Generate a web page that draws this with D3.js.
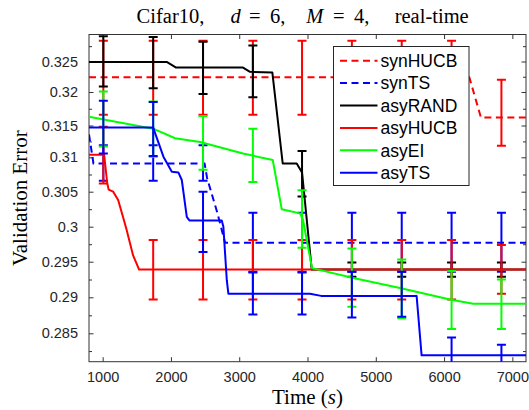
<!DOCTYPE html>
<html><head><meta charset="utf-8">
<script src="https://cdn.jsdelivr.net/npm/d3@7"></script>
<style>body{margin:0;background:#fff}svg{display:block}</style>
</head><body>
<svg id="chart" width="529" height="410"></svg>
<script>
// ---------- DATA ----------
const seriesNames = ["synHUCB", "synTS", "asyRAND", "asyHUCB", "asyEI", "asyTS"];

const synHUCB_t = [800, 6370, 6540, 7200];
const synHUCB_v = [0.3224, 0.3224, 0.3162, 0.3162];
const synTS_t = [800, 865, 2493, 2529, 2676, 2793, 7200];
const synTS_v = [0.3136, 0.3091, 0.3091, 0.3070, 0.3021, 0.2977, 0.2977];
const asyRAND_t = [800, 1944, 2076, 3056, 3158, 3485, 3637, 3842, 3920, 4062, 7200];
const asyRAND_v = [0.3249, 0.3249, 0.3240, 0.3240, 0.3233, 0.3232, 0.3091, 0.3091, 0.3078, 0.2939, 0.2939];
const asyHUCB_t = [800, 1022, 1066, 1088, 1154, 1227, 1344, 1446, 1534, 7200];
const asyHUCB_v = [0.3104, 0.3104, 0.3063, 0.3053, 0.3050, 0.3038, 0.2998, 0.2959, 0.2939, 0.2939];
const asyEI_t = [800, 1739, 2061, 2427, 3056, 3491, 3623, 3890, 3934, 4066, 4671, 5354, 6086, 6427, 7200];
const asyEI_v = [0.3163, 0.3145, 0.3130, 0.3124, 0.3106, 0.3096, 0.3025, 0.3019, 0.3010, 0.2941, 0.2927, 0.2913, 0.2897, 0.2891, 0.2891];
const asyTS_t = [800, 1739, 1768, 1890, 2013, 2109, 2159, 2232, 2270, 2744, 2768, 2818, 2841, 4037, 4200, 5598, 5671, 7200];
const asyTS_v = [0.3147, 0.3147, 0.3138, 0.3101, 0.3079, 0.3078, 0.3067, 0.3014, 0.3009, 0.3009, 0.3000, 0.2924, 0.2905, 0.2905, 0.2902, 0.2902, 0.2819, 0.2819];

// error bars (shared time points), lower / upper bounds
const errT = [1010, 1740, 2470, 3200, 3920, 4650, 5380, 6110, 6840];
const synHUCB_lo = [0.3166, 0.3166, 0.3166, 0.3166, 0.3166, 0.3166, 0.3166, 0.3166, 0.3118];
const synHUCB_hi = [0.3284, 0.3284, 0.3284, 0.3284, 0.3284, 0.3284, 0.3284, 0.3284, 0.3220];
const synTS_lo = [0.3066, 0.3066, 0.3066, 0.2936, 0.2936, 0.2936, 0.2936, 0.2936, 0.2936];
const synTS_hi = [0.3119, 0.3119, 0.3119, 0.3020, 0.3020, 0.3020, 0.3020, 0.3020, 0.3020];
const asyRAND_lo = [0.3209, 0.3206, 0.3197, 0.3192, 0.3043, 0.2929, 0.2929, 0.2929, 0.2929];
const asyRAND_hi = [0.3291, 0.3290, 0.3282, 0.3276, 0.3110, 0.2949, 0.2949, 0.2949, 0.2949];
const asyHUCB_lo = [0.3062, 0.2897, 0.2897, 0.2897, 0.2897, 0.2897, 0.2897, 0.2897, 0.2905];
const asyHUCB_hi = [0.3148, 0.2981, 0.2981, 0.2981, 0.2981, 0.2981, 0.2981, 0.2981, 0.2974];
const asyEI_lo = [0.3117, 0.3101, 0.3082, 0.3064, 0.2970, 0.2887, 0.2871, 0.2856, 0.2856];
const asyEI_hi = [0.3201, 0.3186, 0.3164, 0.3145, 0.3052, 0.2969, 0.2953, 0.2937, 0.2925];
const asyTS_lo = [0.3106, 0.3102, 0.2964, 0.2876, 0.2876, 0.2872, 0.2873, 0.2793, 0.2803];
const asyTS_hi = [0.3187, 0.3185, 0.3050, 0.2935, 0.2935, 0.2936, 0.2936, 0.2844, 0.2834];

const xTicks = [1000, 2000, 3000, 4000, 5000, 6000, 7000];
const xTickLabels = ["1000", "2000", "3000", "4000", "5000", "6000", "7000"];
const yTicks = [0.285, 0.29, 0.295, 0.3, 0.305, 0.31, 0.315, 0.32, 0.325];
const yTickLabels = ["0.285", "0.29", "0.295", "0.3", "0.305", "0.31", "0.315", "0.32", "0.325"];
const yMinorTicks = [0.2825, 0.2875, 0.2925, 0.2975, 0.3025, 0.3075, 0.3125, 0.3175, 0.3225, 0.3275];

// ---------- STYLE / LAYOUT ----------
const styles = {
  synHUCB: {color: "#ff0000", dash: "7,4.5"},
  synTS:   {color: "#0000ff", dash: "7,4.5"},
  asyRAND: {color: "#000000", dash: null},
  asyHUCB: {color: "#ff0000", dash: null},
  asyEI:   {color: "#00ff00", dash: null},
  asyTS:   {color: "#0000ff", dash: null}
};
const L = 89, R = 526, T = 34.5, B = 361.7;
const series = {
  synHUCB: {t: synHUCB_t, v: synHUCB_v, lo: synHUCB_lo, hi: synHUCB_hi},
  synTS:   {t: synTS_t,   v: synTS_v,   lo: synTS_lo,   hi: synTS_hi},
  asyRAND: {t: asyRAND_t, v: asyRAND_v, lo: asyRAND_lo, hi: asyRAND_hi},
  asyHUCB: {t: asyHUCB_t, v: asyHUCB_v, lo: asyHUCB_lo, hi: asyHUCB_hi},
  asyEI:   {t: asyEI_t,   v: asyEI_v,   lo: asyEI_lo,   hi: asyEI_hi},
  asyTS:   {t: asyTS_t,   v: asyTS_v,   lo: asyTS_lo,   hi: asyTS_hi}
};

const svg = d3.select("#chart");
const x = d3.scaleLinear().domain([800, 7200]).range([L, R]);
const y = d3.scaleLinear()
  .domain([0.281, 0.285, 0.29, 0.295, 0.3, 0.305, 0.31, 0.315, 0.32, 0.325, 0.3294])
  .range([B, 333.3, 297.3, 261.7, 226.7, 191.7, 157.3, 125.5, 92, 61.5, T]);

svg.append("defs").append("clipPath").attr("id", "clip")
  .append("rect").attr("x", L).attr("y", T).attr("width", R - L).attr("height", B - T);

const axisColor = "#333";
const tickFont = "'Liberation Sans', Arial, Helvetica, sans-serif";

function styleAxis(g) {
  g.select(".domain").remove();
  g.selectAll(".tick line").attr("stroke", axisColor).attr("stroke-width", 1);
  g.selectAll(".tick text").attr("fill", "#262626").style("font-family", tickFont).style("font-size", "14.5px");
}

// axes
svg.append("g").attr("transform", `translate(0,${B})`)
  .call(d3.axisBottom(x).tickValues(xTicks).tickFormat((d, i) => xTickLabels[i]).tickSize(-4.5).tickPadding(10))
  .call(styleAxis);
svg.append("g").attr("transform", `translate(0,${T})`)
  .call(d3.axisTop(x).tickValues(xTicks).tickFormat("").tickSize(-4.5))
  .call(styleAxis);
svg.append("g").attr("transform", `translate(${L},0)`)
  .call(d3.axisLeft(y).tickValues(yTicks).tickFormat((d, i) => yTickLabels[i]).tickSize(-4.5).tickPadding(11))
  .call(styleAxis);
svg.append("g").attr("transform", `translate(${L},0)`)
  .call(d3.axisLeft(y).tickValues(yMinorTicks).tickFormat("").tickSize(-3))
  .call(styleAxis);
svg.append("g").attr("transform", `translate(${R},0)`)
  .call(d3.axisRight(y).tickValues(yTicks).tickFormat("").tickSize(-4.5))
  .call(styleAxis);
svg.append("g").attr("transform", `translate(${R},0)`)
  .call(d3.axisRight(y).tickValues(yMinorTicks).tickFormat("").tickSize(-3))
  .call(styleAxis);

// box
svg.append("rect").attr("x", L).attr("y", T).attr("width", R - L).attr("height", B - T)
  .attr("fill", "none").attr("stroke", axisColor).attr("stroke-width", 1);

// data
const plot = svg.append("g").attr("clip-path", "url(#clip)");
const line = d3.line().x(d => x(d[0])).y(d => y(d[1]));
const capHalf = 4.5;

seriesNames.forEach(name => {
  const s = series[name], st = styles[name];
  const pts = s.t.map((t, i) => [t, s.v[i]]);
  plot.append("path").datum(pts).attr("d", line)
    .attr("fill", "none").attr("stroke", st.color).attr("stroke-width", 2)
    .attr("stroke-dasharray", st.dash).attr("stroke-linejoin", "round");
  const g = plot.append("g").attr("stroke", st.color).attr("stroke-width", 2).attr("fill", "none");
  errT.forEach((t, i) => {
    const cx = x(t), yt = y(s.hi[i]), yb = y(s.lo[i]);
    g.append("line").attr("x1", cx).attr("x2", cx).attr("y1", yt).attr("y2", yb);
    g.append("line").attr("x1", cx - capHalf).attr("x2", cx + capHalf).attr("y1", yt).attr("y2", yt);
    g.append("line").attr("x1", cx - capHalf).attr("x2", cx + capHalf).attr("y1", yb).attr("y2", yb);
  });
});

// legend
const lg = svg.append("g");
lg.append("rect").attr("x", 333.5).attr("y", 46.5).attr("width", 135.5).attr("height", 139)
  .attr("fill", "#fff").attr("stroke", "#262626").attr("stroke-width", 1);
seriesNames.forEach((name, i) => {
  const cy = 60.7 + i * 22.4, st = styles[name];
  lg.append("line").attr("x1", 340).attr("x2", 377.5).attr("y1", cy).attr("y2", cy)
    .attr("stroke", st.color).attr("stroke-width", 2).attr("stroke-dasharray", st.dash);
  lg.append("text").attr("x", 380.5).attr("y", cy).attr("dy", "0.36em")
    .style("font-family", tickFont).style("font-size", "17.5px").attr("fill", "#000").text(name);
});

// title
const serif = "'Liberation Serif', 'Times New Roman', serif";
const title = svg.append("text").attr("y", 23).style("font-family", serif).style("font-size", "20.5px").attr("fill", "#000");
title.append("tspan").attr("x", 136.6).text("Cifar10,");
title.append("tspan").attr("x", 230.4).style("font-style", "italic").text("d");
title.append("tspan").attr("x", 249).text("=");
title.append("tspan").attr("x", 270).text("6,");
title.append("tspan").attr("x", 306.3).style("font-style", "italic").text("M");
title.append("tspan").attr("x", 333).text("=");
title.append("tspan").attr("x", 354).text("4,");
title.append("tspan").attr("x", 394.7).text("real-time");

// axis labels
const xl = svg.append("text").attr("x", (L + R) / 2).attr("y", 404).attr("text-anchor", "middle")
  .style("font-family", serif).style("font-size", "21px").attr("fill", "#000");
xl.append("tspan").text("Time (");
xl.append("tspan").style("font-style", "italic").text("s");
xl.append("tspan").text(")");

svg.append("text").attr("transform", `translate(27,${(T + B) / 2}) rotate(-90)`).attr("text-anchor", "middle")
  .style("font-family", serif).style("font-size", "21px").attr("fill", "#000").text("Validation Error");
</script>
</body></html>
